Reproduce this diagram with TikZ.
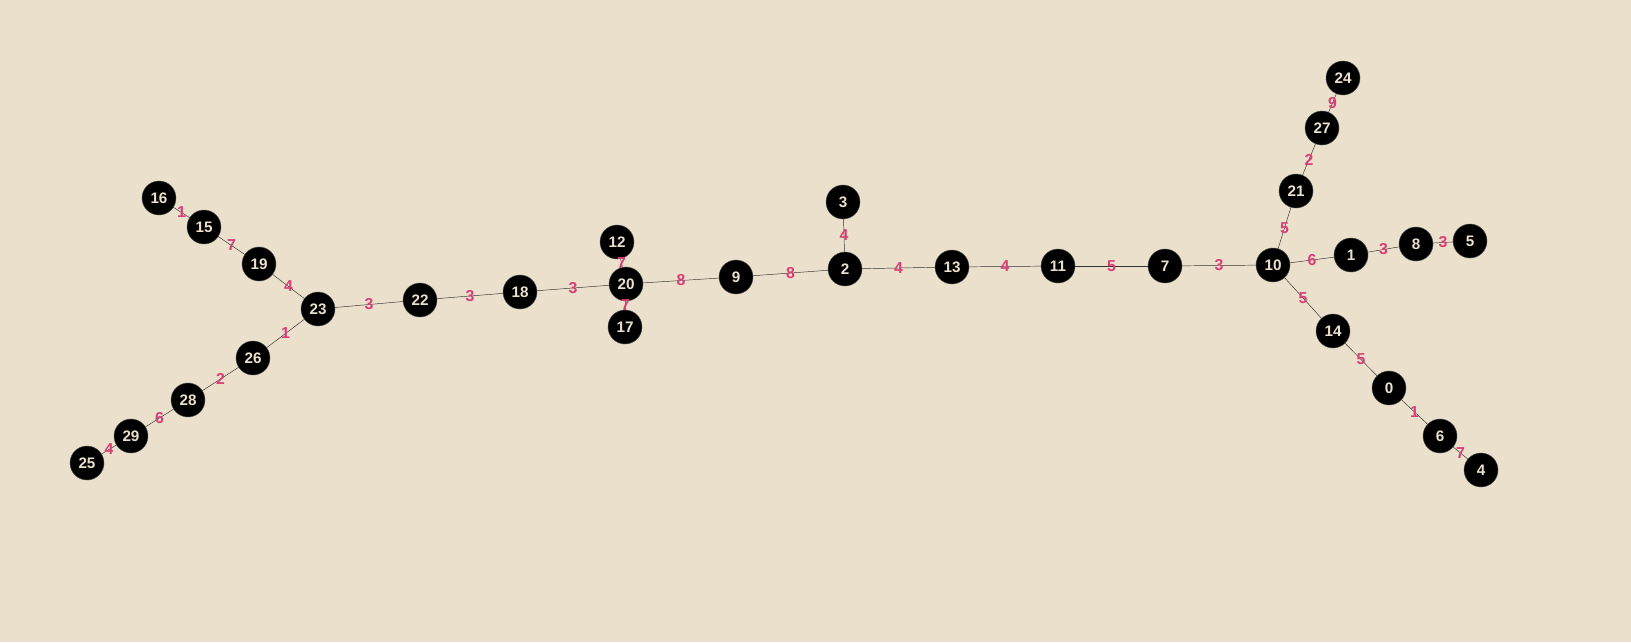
\documentclass[tikz,border=0pt]{standalone}
\usepackage{fontspec}
\setmainfont{Liberation Sans}
\usepackage{tikz}
\usetikzlibrary{arrows,shapes,calc,positioning}
\definecolor{paper}{RGB}{235,224,204}
\definecolor{wcol}{RGB}{214,64,118}
\tikzstyle{edge}  =[draw=black!80, line width=0.4pt]
\tikzstyle{vertex}=[circle, fill=black, draw=black!70, minimum size=1.02cm,
                    inner sep=0pt, outer sep=0pt, text=paper,
                    font=\bfseries\fontsize{13}{13}\selectfont]
\tikzstyle{weight}=[inner sep=0pt, text=wcol,
                    font=\bfseries\fontsize{13.5}{13.5}\selectfont]

\begin{document}
\begin{tikzpicture}[x=0.03cm, y=-0.03cm]
    \fill[paper] (0,0) rectangle (1631,642);
    \useasboundingbox (0,0) rectangle (1631,642);
    \foreach \n/\x/\y in {16/159/198, 15/204/227, 19/259/264, 23/318/309,
        22/420/300, 18/520/292, 20/626/284, 12/617/242, 17/625/327,
        9/736/277, 3/843/202, 2/845/269, 13/952/267, 11/1058/266,
        7/1165/266, 10/1273/265, 21/1296/191, 27/1322/128, 24/1343/78,
        1/1351/255, 8/1416/244, 5/1470/241, 14/1333/331, 0/1389/388,
        6/1440/436, 4/1481/470, 26/253/358, 28/188/400, 29/131/436,
        25/87/463}
        \coordinate (c\n) at (\x,\y);
    % edges first, vertices on top
    \foreach \a/\b/\w in {16/15/1, 15/19/7, 19/23/4, 23/22/3, 22/18/3,
        18/20/3, 20/12/7, 20/17/7, 20/9/8, 9/2/8, 2/3/4, 2/13/4, 13/11/4,
        11/7/5, 7/10/3, 10/21/5, 21/27/2, 27/24/9, 10/1/6, 1/8/3, 8/5/3,
        10/14/5, 14/0/5, 0/6/1, 6/4/7, 23/26/1, 26/28/2, 28/29/6, 29/25/4}
        \draw[edge] (c\a) -- (c\b);
    \foreach \n in {0,...,29}
        \node[vertex] (\n) at (c\n) {\n};
    \foreach \a/\b/\w in {16/15/1, 15/19/7, 19/23/4, 23/22/3, 22/18/3,
        18/20/3, 20/12/7, 20/17/7, 20/9/8, 9/2/8, 2/3/4, 2/13/4, 13/11/4,
        11/7/5, 7/10/3, 10/21/5, 21/27/2, 27/24/9, 10/1/6, 1/8/3, 8/5/3,
        10/14/5, 14/0/5, 0/6/1, 6/4/7, 23/26/1, 26/28/2, 28/29/6, 29/25/4}
        \path (\a) -- node[weight, pos=0.5] {\w} (\b);
\end{tikzpicture}
\end{document}
